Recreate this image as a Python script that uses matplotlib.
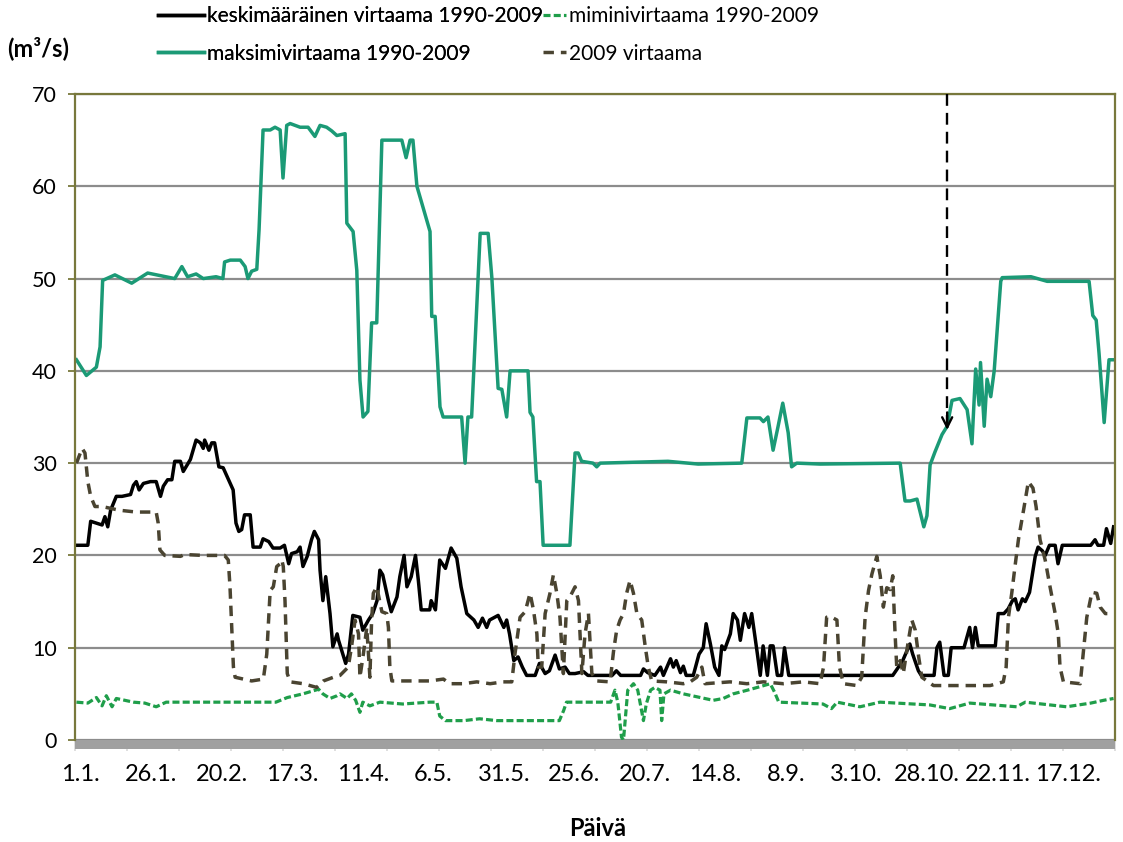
import matplotlib.pyplot as plt
from matplotlib.patches import Rectangle
import numpy as np

plt.rcParams['font.family'] = ['Lato', 'DejaVu Sans']

# x tick labels (dates) and y range
tick_labels = ['1.1.', '26.1.', '20.2.', '17.3.', '11.4.', '6.5.', '31.5.', '25.6.',
               '20.7.', '14.8.', '8.9.', '3.10.', '28.10.', '22.11.', '17.12.']

# (day, m3/s)
mean_pts = [(1, 21.1), (5, 21.1), (6, 23.7), (10, 23.3), (11, 24.2), (12, 23.1), (13, 24.9),
            (15, 26.4), (17, 26.4), (20, 26.6), (21, 27.6), (22, 28), (23, 27.1), (24.5, 27.8),
            (27, 28), (29, 28), (30.5, 26.4), (31.5, 27.5), (33, 28.2), (34.5, 28.2), (35.5, 30.2),
            (37.5, 30.2), (38.5, 29.1), (41, 30.4), (43, 32.5), (44.5, 32.2), (45.5, 31.6),
            (46, 32.5), (47.5, 31.4), (48.5, 32.2), (49.5, 32.2), (51, 29.6), (52.5, 29.5),
            (55, 27.8), (56, 27.1), (57, 23.5), (58, 22.6), (59, 22.8), (60, 24.4), (62, 24.4),
            (63, 20.9), (65.5, 20.9), (66.5, 21.8), (68.5, 21.5), (70, 20.8), (72.5, 20.8),
            (74, 21.1), (75.5, 19.1), (76.5, 20.2), (78.5, 20.4), (79.5, 20.9), (80.5, 18.8),
            (82, 19.9), (83.5, 21.7), (84.5, 22.6), (86, 21.7), (86.5, 18.4), (87.5, 15.1),
            (88.5, 17.7), (90, 13.7), (91, 10.1), (92.5, 11.5), (93, 10.8), (95.5, 8.3),
            (96.5, 9.3), (98, 13.5), (100.5, 13.3), (101.5, 11.9), (103.5, 13), (105, 13.7),
            (106.5, 15.1), (107.5, 18.4), (108.5, 17.9), (110.5, 15.1), (111.5, 13.9),
            (113.5, 15.5), (114.5, 17.7), (116, 20), (117, 16.6), (118.5, 17.7), (120, 20),
            (121, 17.3), (122, 14.1), (125, 14.1), (125.5, 15.1), (127, 14.1), (128.5, 19.5),
            (130.5, 18.6), (132.5, 20.8), (134.5, 19.7), (136, 16.6), (138, 13.7), (140.5, 13),
            (142, 12.2), (143.5, 13.2), (145, 12.2), (146, 13), (149, 13.5), (151, 12.2),
            (152, 13), (153, 11.5), (154.5, 8.6), (156, 9), (157.5, 7.9), (159, 7), (162, 7),
            (163.5, 8.3), (165.5, 7.2), (167, 7.5), (169, 9.2), (170.5, 7.7), (172.5, 7.9),
            (174, 7.2), (176, 7.2), (179, 7.4), (180.5, 7), (189, 7), (190.5, 7.5), (192, 7),
            (199, 7), (200, 7.7), (201.5, 7.3), (204, 7), (206, 7.9), (207, 7), (209.5, 8.8),
            (210.5, 7.9), (211.5, 8.6), (213, 7.3), (214, 8), (215, 7), (217.5, 7), (219.5, 9.3),
            (221, 10), (222, 12.6), (223.5, 10.4), (225, 7.9), (226.5, 7), (227.5, 10.2),
            (228.5, 9.8), (230.5, 11.5), (231.5, 13.7), (233, 13), (234, 10.8), (235.5, 13.7),
            (237, 12.2), (238, 13.7), (240, 9.3), (241, 7), (242, 10.2), (243.5, 7),
            (244.5, 10.2), (245.5, 10.2), (247, 7), (248.5, 7), (249.5, 10), (251, 7),
            (287.5, 7), (289.5, 7.9), (291, 8.6), (293.5, 10.4), (294.5, 9.3), (296.5, 7.5),
            (297.5, 7), (302, 7), (303, 10), (304, 10.6), (305.5, 7), (307, 7), (308, 10),
            (312.5, 10), (314.5, 12.2), (315.5, 10), (316.5, 12.2), (317.5, 10.2), (323.5, 10.2),
            (324.5, 13.7), (326.5, 13.7), (328, 14.2), (329.5, 15.1), (330.5, 15.3),
            (331.5, 14.1), (333, 15.3), (334, 15), (335.5, 16), (337.5, 19.9), (338.5, 20.9),
            (340, 20.5), (341, 20), (342.5, 21.1), (344.5, 21.1), (345.5, 19.1), (347, 21.1),
            (357, 21.1), (358.5, 21.7), (359.5, 21.1), (361.5, 21.1), (362.5, 22.9),
            (364, 21.3), (365, 23.1)]

min_pts = [(1, 4.1), (5, 4.0), (8, 4.6), (10, 3.7), (11.5, 4.8), (13.5, 3.6), (15, 4.5),
           (21, 4.1), (25, 4.0), (29, 3.6), (32.5, 4.1), (71, 4.1), (75, 4.6), (80.5, 5),
           (86, 5.5), (87.5, 5), (90, 4.5), (92.5, 4.8), (93.5, 5), (96, 4.5), (97.5, 5),
           (99, 4.3), (100.5, 3), (101.5, 4.1), (104, 3.7), (107.5, 4.1), (115.5, 3.9),
           (125, 4.1), (127.5, 4.1), (128.5, 2.6), (130.5, 2.1), (137, 2.1), (142.5, 2.3),
           (148.5, 2.1), (170.5, 2.1), (172, 3.2), (173, 4.1), (188.5, 4.1), (190, 5.4),
           (191, 4.1), (192.3, 0.3), (193, 0), (194.5, 5.4), (196.5, 6.1), (198, 5.4),
           (200, 2.1), (201, 3.9), (202.5, 5.4), (204, 5.7), (205.8, 5.4), (206.4, 2.1),
           (207.2, 5), (209.5, 5.4), (214, 5), (220, 4.6), (224.5, 4.3), (228, 4.5),
           (231.5, 5), (236.5, 5.4), (240, 5.7), (244.5, 6.1), (246, 5.2), (247.5, 4.1),
           (263, 3.9), (266, 3.4), (268, 4.1), (276, 3.6), (283, 4.1), (300.5, 3.8),
           (307.5, 3.4), (314.5, 4.0), (331, 3.6), (334, 4.1), (348.5, 3.6), (357, 4.0),
           (361.5, 4.3), (365, 4.5)]

max_pts = [(1, 41.2), (4.5, 39.5), (8, 40.4), (9.3, 42.6), (10.2, 49.8), (14.5, 50.4),
           (20.4, 49.5), (26, 50.6), (35.5, 50.0), (38, 51.3), (40, 50.2), (43, 50.5),
           (45.5, 50), (50, 50.2), (52.4, 50), (53, 51.8), (55, 52), (58.5, 52), (60.2, 51.3),
           (61.2, 50), (62.5, 50.8), (64.3, 51), (65.1, 55.3), (66.5, 66.1), (69, 66.1),
           (70.7, 66.4), (72.5, 66.1), (73.5, 60.9), (74.8, 66.6), (76, 66.8), (79.5, 66.4),
           (82.3, 66.4), (84.7, 65.4), (86.5, 66.6), (88.8, 66.4), (90.6, 66), (92.4, 65.5),
           (95.3, 65.7), (95.9, 56), (98.1, 55.1), (99.4, 50.9), (100.5, 39), (101.6, 35),
           (103.3, 35.6), (104.6, 45.2), (106.4, 45.2), (108.2, 65), (115.2, 65),
           (116.7, 63.1), (118.1, 65), (119.1, 65), (120.5, 60), (125.1, 55.1), (125.7, 45.9),
           (126.9, 45.9), (128.6, 36.1), (129.7, 35), (136.2, 35), (137.4, 30), (138.4, 35),
           (139.7, 35), (142.7, 54.9), (145.5, 54.9), (146.8, 50.1), (149, 38.1), (150.3, 38),
           (152, 35), (153.2, 40), (159.5, 40), (160.2, 35.5), (161.2, 35), (162.5, 28),
           (163.7, 28), (164.8, 21.1), (174.2, 21.1), (176, 31.1), (177.1, 31.1),
           (178.3, 30.2), (182.3, 30), (183.6, 29.6), (184.8, 30), (208.6, 30.2),
           (219.2, 29.9), (234.5, 30), (236.3, 34.9), (240.9, 34.9), (242.1, 34.5),
           (243.7, 35), (245.5, 31.4), (247.2, 33.9), (248.9, 36.5), (250.8, 33.3),
           (252, 29.6), (253.8, 30), (262, 29.9), (290.1, 30), (291.8, 25.9), (293.6, 25.9),
           (296, 26.1), (298.4, 23.1), (299.5, 24.3), (300.6, 29.8), (302.3, 31.2),
           (304.8, 33.1), (306.6, 34), (308.3, 36.8), (311.1, 37), (313.6, 35.8),
           (315.3, 32.1), (316.6, 40.2), (317.8, 36.3), (318.3, 40.9), (319.6, 34),
           (320.6, 39.1), (321.9, 37.2), (323.1, 40), (325.4, 49.7), (325.9, 50.1),
           (336, 50.2), (341.7, 49.7), (356.4, 49.7), (357.7, 46), (358.9, 45.5),
           (359.9, 41.9), (361.7, 34.4), (363.4, 41.2), (365.5, 41.2)]

flow2009_pts = [(1, 30), (3, 31.6), (4, 31.1), (5, 28), (6, 26.4), (7.5, 25.3), (10, 25.3),
                (13, 25.1), (16, 24.9), (22, 24.7), (29, 24.7), (29.7, 23.5), (30.3, 20.6),
                (32, 20), (37.5, 19.9), (39, 20.1), (45.5, 20), (53, 20), (54.3, 19.5),
                (54.9, 16.6), (56.1, 7.9), (56.7, 6.8), (59.6, 6.6), (62.5, 6.4), (66.6, 6.6),
                (67.8, 9.3), (69, 16.2), (70.1, 16.6), (71.3, 18.8), (72.5, 19.1),
                (73.1, 19.5), (73.6, 18.8), (74.2, 15.1), (75, 7.2), (76, 6.3), (80.6, 6.1),
                (85.3, 5.7), (87.7, 6.4), (91.2, 6.8), (93.5, 7), (96.4, 7.9), (97.6, 10.2),
                (98.8, 13), (100, 11.5), (100.5, 6.8), (101.7, 9.3), (102.9, 12.2), (104, 6.8),
                (104.6, 13), (105.2, 15.9), (106.4, 16.6), (108.2, 13.9), (109.9, 13.7),
                (110.5, 12.2), (111, 7.9), (111.7, 6.4), (125, 6.4), (129.8, 6.6), (132, 6.1),
                (136.8, 6.1), (141.5, 6.3), (146.2, 6.1), (150.8, 6.3), (153.8, 6.3),
                (154.9, 9.3), (156.7, 13.3), (158.5, 13.9), (160.2, 15.9), (161.4, 14.1),
                (162.6, 11.5), (163.1, 7.9), (164.3, 7.9), (165.5, 13.7), (167.2, 15.9),
                (168.4, 17.9), (169.6, 15.9), (170.7, 13.3), (171.9, 7.2), (173.1, 15.1),
                (174.2, 15.5), (176, 16.6), (177.2, 15.1), (178.4, 7.2), (179.5, 11.5),
                (180.7, 13.7), (181.9, 7.2), (183.6, 6.4), (188.3, 6.3), (189.5, 9.6),
                (190.6, 11.9), (191.8, 13), (193, 13.7), (194.1, 15.9), (195.3, 17.3),
                (196.5, 15.9), (197.7, 13.7), (199.4, 13), (200.6, 10.2), (201.7, 7.9),
                (202.9, 6.4), (208.2, 6.3), (214, 6.1), (216.4, 6.3), (218.7, 6.8),
                (220.5, 7.9), (221.6, 6.1), (230.4, 6.3), (236.3, 6.1), (242.1, 6.3),
                (249.1, 6.1), (256.1, 6.3), (262, 6.1), (263.2, 7.9), (264.3, 13.3),
                (265.5, 13.4), (267.9, 13), (268.8, 7.9), (270.2, 6.1), (274.9, 5.9),
                (276.6, 6.8), (277.8, 13.3), (279, 16.2), (280.2, 18), (281.9, 19.9),
                (283.1, 17.8), (284.2, 14.4), (285.4, 16.5), (286.6, 16.3), (287.5, 17.8),
                (288.3, 11.6), (288.9, 7.9), (290.1, 8.6), (291.2, 7.2), (293, 10.8),
                (294.2, 13), (295.4, 11.9), (296.6, 9), (297.7, 6.8), (299.5, 6.4),
                (301.8, 5.9), (321.7, 5.9), (326.3, 6.3), (327.3, 7.9), (328.1, 13.3),
                (329.3, 16), (330.4, 18.8), (331.6, 21.7), (333.4, 24.9), (335.1, 28),
                (336.7, 27.3), (337.8, 25.3), (339.2, 21.7), (341, 19.5), (342.7, 16.6),
                (344.5, 13.7), (345.6, 11.5), (346.2, 7.9), (347.4, 6.3), (353.3, 6.1),
                (354.4, 9.6), (355.6, 13.3), (357.4, 16), (359.1, 15.9), (360.3, 14.4),
                (362.1, 13.7), (365.5, 13.7)]

# dashed arrow marker
arrow_day = 306.6
arrow_tip = 33.3

olive = '#78783c'

fig = plt.figure(figsize=(11.23, 8.42), dpi=100)
ax = fig.add_axes([75 / 1123, 1 - 740 / 842, 1040 / 1123, 646 / 842])

md, mv = zip(*mean_pts)
nd, nv = zip(*min_pts)
xd, xv = zip(*max_pts)
yd, yv = zip(*flow2009_pts)

l_mean, = ax.plot(md, mv, color='black', lw=2.5, label='keskimääräinen virtaama 1990-2009')
l_min, = ax.plot(nd, nv, color='#1f9e4a', lw=2.3, ls=(0, (2.2, 1.0)),
                 label='miminivirtaama 1990-2009')
l_max, = ax.plot(xd, xv, color='#1b9a76', lw=2.5, label='maksimivirtaama 1990-2009')
l_09, = ax.plot(yd, yv, color='#4a4431', lw=2.5, ls=(0, (3, 2)), label='2009 virtaama')

# arrow
ax.plot([arrow_day, arrow_day], [70, arrow_tip + 1.0], color='black', lw=1.7,
        ls=(0, (5, 3)), zorder=5)
ax.annotate('', xy=(arrow_day, arrow_tip), xytext=(arrow_day, arrow_tip + 2.5),
            arrowprops=dict(arrowstyle='->', color='black', lw=1.7,
                            mutation_scale=18), zorder=5)

ax.set_xlim(0.5, 365.5)
ax.set_ylim(0, 70)
ax.set_yticks(range(0, 71, 10))
ax.yaxis.grid(True, color='#8c8c8c', lw=1.6)
ax.set_axisbelow(True)

# date labels and band ticks
label_pos = 2.5 + 24.75 * np.arange(len(tick_labels))
ax.set_xticks(label_pos)
ax.set_xticklabels(tick_labels)
ax.set_xticks(np.linspace(0.5, 365.5, 21), minor=True)
ax.tick_params(axis='x', which='major', length=0, labelsize=17, pad=17)
ax.tick_params(axis='x', which='minor', length=8, width=1.3, color='#dcdcdc', direction='out')
ax.tick_params(axis='y', length=5, width=1.3, color=olive, labelsize=15.5, pad=8)

for s in ['top', 'left', 'right']:
    ax.spines[s].set_color(olive)
    ax.spines[s].set_linewidth(1.6)
ax.spines['bottom'].set_visible(False)
band = Rectangle((0, -9 / 646), 1, 9 / 646, transform=ax.transAxes, clip_on=False,
                 facecolor='#a0a0a0', edgecolor='none', zorder=1)
ax.add_patch(band)

leg1 = fig.legend(handles=[l_mean, l_max], loc='upper left', bbox_to_anchor=(158 / 1123, 1 - 6 / 842),
                  frameon=False, fontsize=15, handlelength=2.2, handletextpad=0.15,
                  labelspacing=0.85, borderpad=0, borderaxespad=0)
fig.legend(handles=[l_min, l_09], loc='upper left', bbox_to_anchor=(543 / 1123, 1 - 6 / 842),
           frameon=False, fontsize=15, handlelength=1.1, handletextpad=0.15,
           labelspacing=0.85, borderpad=0, borderaxespad=0)
fig.add_artist(leg1)

fig.text(7 / 1123, 1 - 48 / 842, '(m³/s)', fontsize=17, fontweight='bold', va='center', ha='left')
fig.text(598 / 1123, 1 - 828 / 842, 'Päivä', fontsize=17, fontweight='bold', va='center', ha='center')

fig.savefig('out.png', dpi=100)
